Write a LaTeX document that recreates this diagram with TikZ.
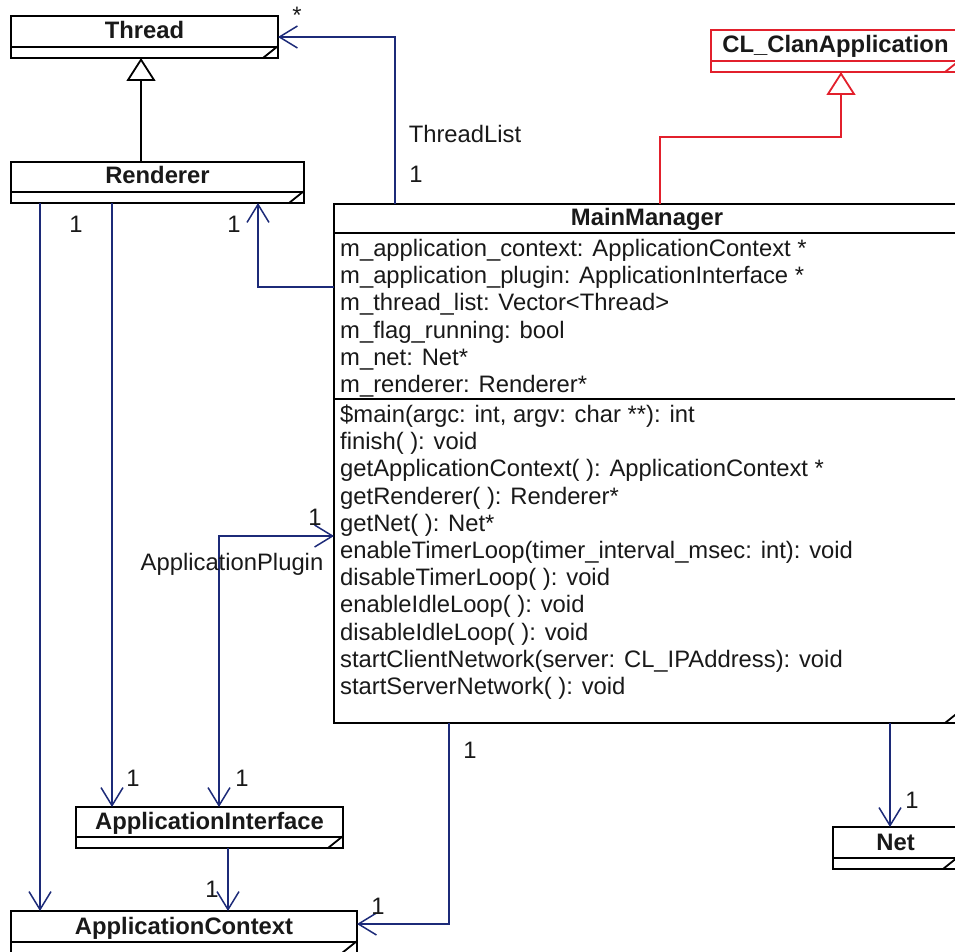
\documentclass[tikz,border=0pt]{standalone}
\usepackage{fontspec}
\setmainfont{Liberation Sans}
\usetikzlibrary{arrows.meta}

\definecolor{assocblue}{RGB}{28,42,120}
\definecolor{umlred}{RGB}{226,32,44}

\tikzset{
  x=1pt, y=-1pt,
  boxline/.style={line width=1.8pt},
  classframe/.style={boxline, inner sep=0pt, outer sep=0pt, fill=white},
  titletext/.style={font=\fontsize{23.8}{27}\selectfont\bfseries, inner sep=0pt, anchor=base, text=black!90},
  membertext/.style={font=\fontsize{23.8}{27}\selectfont, inner sep=0pt, anchor=base west, text=black!90},
  lbl/.style={font=\fontsize{23.8}{27}\selectfont, inner sep=0pt, text=black!90},
  assoc/.style={draw=assocblue, line width=1.5pt, line join=miter,
    -{Straight Barb[length=18pt,width=22pt]}},
  assocboth/.style={draw=assocblue, line width=1.5pt, line join=miter,
    {Straight Barb[length=18pt,width=22pt]}-{Straight Barb[length=18pt,width=22pt]}},
  generalize/.style={line width=1.8pt, -{Triangle[open,length=23pt,width=29pt]}},
}

% UML class box: colour, name, left, top, right, title divider, bottom, title
\newcommand\umlclass[8]{%
  \node[classframe, draw=#1, anchor=north west,
        minimum width={(#5-#3)*1pt}, minimum height={(#7-#4)*1pt}] (#2) at (#3,#4) {};
  \draw[#1, boxline] (#3,#6) -- (#5,#6);
  \draw[#1, boxline] ({#5-15},#7) -- (#5,{#7-12});
  \node[titletext] at ({(#3+#5)/2},{#6-8}) {#8};
}

\begin{document}
\begin{tikzpicture}
\useasboundingbox (0,0) rectangle (955,952);
\clip (0,0) rectangle (955,952);

% classes
\umlclass{black}{thread}{11}{16}{278}{47}{58}{Thread}
\umlclass{black}{rend}{11}{162}{304}{192}{203}{Renderer}
\umlclass{umlred}{clan}{711}{30}{960}{61}{72}{CL\_ClanApplication}
\umlclass{black}{mm}{334}{204}{960}{233}{723}{MainManager}
\umlclass{black}{aint}{76}{807}{343}{837}{848}{ApplicationInterface}
\umlclass{black}{actx}{11}{911}{357}{942}{953}{ApplicationContext}
\umlclass{black}{net}{833}{827}{958}{858}{869}{Net}

% MainManager compartments
\draw[boxline] (334,399) -- (960,399);
\node[membertext] (a1) at (340,256) {m\_application\_context: ApplicationContext *};
\node[membertext] (a2) at (340,283) {m\_application\_plugin: ApplicationInterface *};
\node[membertext] (a3) at (340,310) {m\_thread\_list: Vector<Thread>};
\node[membertext] (a4) at (340,338) {m\_flag\_running: bool};
\node[membertext] (a5) at (340,365) {m\_net: Net*};
\node[membertext] (a6) at (340,392) {m\_renderer: Renderer*};
\node[membertext] (o1) at (340,422) {\$main(argc: int, argv: char **): int};
\node[membertext] (o2) at (340,449) {finish( ): void};
\node[membertext] (o3) at (340,476) {getApplicationContext( ): ApplicationContext *};
\node[membertext] (o4) at (340,504) {getRenderer( ): Renderer*};
\node[membertext] (o5) at (340,531) {getNet( ): Net*};
\node[membertext] (o6) at (340,558) {enableTimerLoop(timer\_interval\_msec: int): void};
\node[membertext] (o7) at (340,585) {disableTimerLoop( ): void};
\node[membertext] (o8) at (340,612) {enableIdleLoop( ): void};
\node[membertext] (o9) at (340,640) {disableIdleLoop( ): void};
\node[membertext] (o10) at (340,667) {startClientNetwork(server: CL\_IPAddress): void};
\node[membertext] (o11) at (340,694) {startServerNetwork( ): void};

% connector routing points
\coordinate (tlx) at (395,0);
\coordinate (rbend) at (258,287);
\coordinate (ctxa) at (40,0);
\coordinate (inta) at (112,0);
\coordinate (pbend) at (219,536);
\coordinate (ctxb) at (228,0);
\coordinate (cbend) at (449,924);
\coordinate (netx) at (890,0);
\coordinate (genx) at (141,0);
\coordinate (redbend) at (660,137);
\coordinate (clanx) at (841,0);

% generalizations
\draw[generalize] (rend.north -| genx) -- (thread.south -| genx);
\draw[generalize, umlred] (mm.north -| redbend) -- (redbend) -| (clan.south -| clanx);

% associations
\draw[assoc] (mm.north -| tlx) |- (thread.east);
\draw[assoc] (mm.west |- rbend) -| (rend.south -| rbend);
\draw[assoc] (rend.south -| ctxa) -- (actx.north -| ctxa);
\draw[assoc] (rend.south -| inta) -- (aint.north -| inta);
\draw[assocboth] (aint.north -| pbend) |- (mm.west |- pbend);
\draw[assoc] (aint.south -| ctxb) -- (actx.north -| ctxb);
\draw[assoc] (mm.south -| cbend) |- (actx.east |- cbend);
\draw[assoc] (mm.south -| netx) -- (net.north -| netx);

% role names and multiplicities
\node[lbl] (star) at (297,15) {*};
\node[lbl] (tlname) at (465,134) {ThreadList};
\node[lbl] (tlm) at (416,174) {1};
\node[lbl] (rc1) at (76,224) {1};
\node[lbl] (rr1) at (234,224) {1};
\node[lbl] (pm1) at (315,517) {1};
\node[lbl] (pname) at (232,564) {ApplicationPlugin};
\node[lbl] (ai1) at (133,778) {1};
\node[lbl] (ai2) at (242,778) {1};
\node[lbl] (mc1) at (470,750) {1};
\node[lbl] (ac1) at (212,889) {1};
\node[lbl] (ac2) at (378,906) {1};
\node[lbl] (nt1) at (912,800) {1};
\end{tikzpicture}
\end{document}
